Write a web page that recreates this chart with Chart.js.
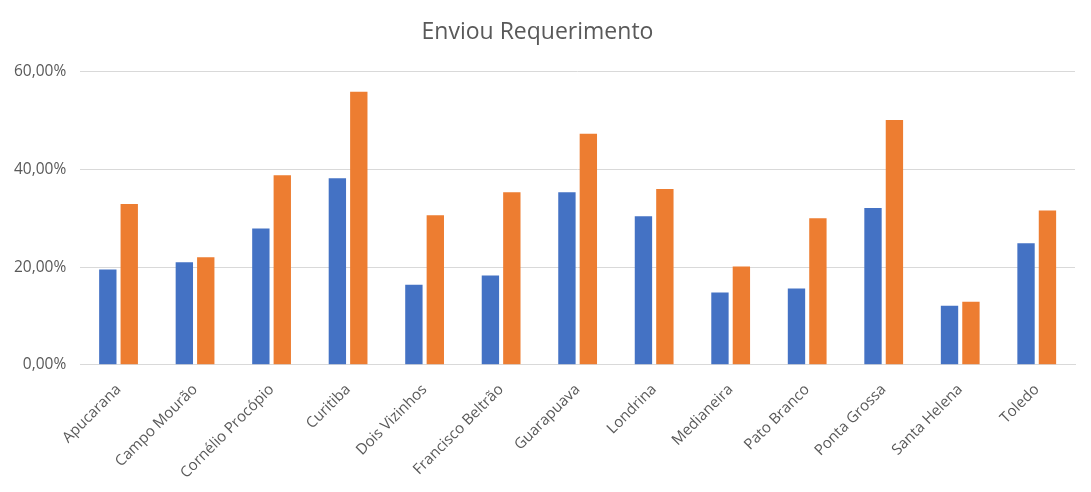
<!DOCTYPE html>
<html>
<head>
<meta charset="utf-8">
<script src="https://cdn.jsdelivr.net/npm/chart.js@4/dist/chart.umd.min.js"></script>
<style>
  html, body { margin: 0; padding: 0; background: #fff; }
  #chart { display: block; }
</style>
</head>
<body>
<canvas id="chart" width="1091" height="492"></canvas>
<script>
const campi = ['Apucarana', 'Campo Mourão', 'Cornélio Procópio', 'Curitiba', 'Dois Vizinhos',
  'Francisco Beltrão', 'Guarapuava', 'Londrina', 'Medianeira', 'Pato Branco',
  'Ponta Grossa', 'Santa Helena', 'Toledo'];
const serieAzul = [19.5, 21.0, 27.9, 38.2, 16.4, 18.3, 35.3, 30.4, 14.8, 15.6, 32.1, 12.1, 24.9];
const serieLaranja = [32.9, 22.0, 38.8, 55.9, 30.6, 35.3, 47.3, 36.0, 20.1, 30.0, 50.1, 12.9, 31.6];
const yTicks = [0, 20, 40, 60];

function percent(value) {
  return `${value.toFixed(2).replace('.', ',')}%`;
}

function enviouChart() {
  const config = {
    type: 'bar',
    data: {
      labels: campi,
      datasets: [
        { label: 'Série 1', data: serieAzul, backgroundColor: '#4472C4' },
        { label: 'Série 2', data: serieLaranja, backgroundColor: '#ED7D31' },
      ],
    },
    options: {
      responsive: false,
      animation: false,
      categoryPercentage: 0.56,
      barPercentage: 0.81,
      layout: { padding: { left: 0, right: 16, top: 4, bottom: 2 } },
      plugins: {
        legend: { display: false },
        tooltip: { enabled: false },
        title: {
          display: true,
          text: 'Enviou Requerimento',
          color: '#595959',
          font: { family: 'Open Sans', size: 23, weight: 'normal' },
          padding: { top: 15, bottom: 25 },
        },
      },
      scales: {
        x: {
          grid: { display: false },
          border: { display: true, color: '#d9d9d9', width: 1 },
          ticks: {
            color: '#595959',
            font: { family: 'Open Sans', size: 15 },
            minRotation: 45,
            maxRotation: 45,
            autoSkip: false,
            padding: 8,
          },
        },
        y: {
          min: 0,
          max: 60,
          afterBuildTicks: (axis) => { axis.ticks = yTicks.map((v) => ({ value: v })); },
          grid: { color: '#d9d9d9', drawTicks: false },
          border: { display: false },
          ticks: {
            color: '#595959',
            font: { family: 'Open Sans', size: 15.5 },
            padding: 14,
            callback: percent,
          },
        },
      },
    },
  };

  return new Chart(document.getElementById('chart'), config);
}

enviouChart();
</script>
</body>
</html>
